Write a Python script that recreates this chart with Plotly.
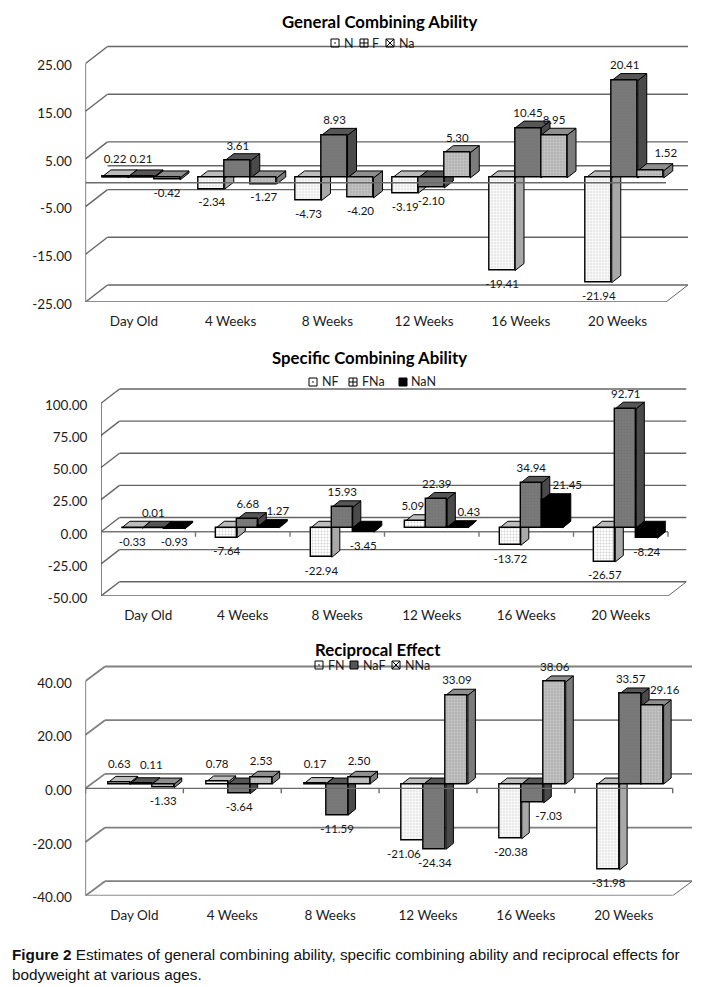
import plotly.graph_objects as go

categories = ["Day Old", "4 Weeks", "8 Weeks", "12 Weeks", "16 Weeks", "20 Weeks"]

# Chart 1
gca_names = ["N", "F", "Na"]
gca_n = [0.22, -2.34, -4.73, -3.19, -19.41, -21.94]
gca_f = [0.21, 3.61, 8.93, -2.10, 10.45, 20.41]
gca_na = [-0.42, -1.27, -4.20, 5.30, 8.95, 1.52]
gca_ticks = [25, 15, 5, -5, -15, -25]
gca_ticktext = ["25.00", "15.00", "5.00", "-5.00", "-15.00", "-25.00"]

# Chart 2
sca_names = ["NF", "FNa", "NaN"]
sca_nf = [-0.33, -7.64, -22.94, 5.09, -13.72, -26.57]
sca_fna = [0.01, 6.68, 15.93, 22.39, 34.94, 92.71]
sca_nan = [-0.93, 1.27, -3.45, 0.43, 21.45, -8.24]
sca_ticks = [100, 75, 50, 25, 0, -25, -50]
sca_ticktext = ["100.00", "75.00", "50.00", "25.00", "0.00", "-25.00", "-50.00"]

# Chart 3
rec_names = ["FN", "NaF", "NNa"]
rec_fn = [0.63, 0.78, 0.17, -21.06, -20.38, -31.98]
rec_naf = [0.11, -3.64, -11.59, -24.34, -7.03, 33.57]
rec_nna = [-1.33, 2.53, 2.50, 33.09, 38.06, 29.16]
rec_ticks = [40, 20, 0, -20, -40]
rec_ticktext = ["40.00", "20.00", "0.00", "-20.00", "-40.00"]

W, H = 710, 987
LW = dict(white=dict(front="#ffffff", fg="#a6a6a6", side="#a8a8a8", top="#bcbcbc"),
          dark=dict(front="#7a7a7a", fg="#696969", side="#4a4a4a", top="#565656"),
          light=dict(front="#c6c6c6", fg="#7c7c7c", side="#7c7c7c", top="#8e8e8e"),
          black=dict(front="#000000", fg="#000000", side="#000000", top="#000000"))

panels = [
    dict(title="General Combining Ability", tx=380, ty=22, names=gca_names,
         series=[gca_n, gca_f, gca_na], styles=["white", "dark", "light"],
         ticks=gca_ticks, ticktext=gca_ticktext, extra_back=[0], x0=85.5, x1=666, vmax=25, vmin=-25,
         ytop=63.5, ybot=302, dx=22, dy=17, bar_lead=16.5, bar_w=26, base_px=4.8, dep=(9, -7),
         axis_top=True, cat_ticks=False, grid=("#666666", 1.4),
         leg_x=[335, 364, 390], leg_tx=[344, 372, 399], leg_y=43,
         leg_sym=["square-open-dot", "square-cross-open", "square-x-open"], leg_col=["#000000"] * 3,
         nudges={(0, 0): (0, -3), (1, 0): (0, -3), (2, 5): (15, -3)}),
    dict(title="Specific Combining Ability", tx=369, ty=358, names=sca_names,
         series=[sca_nf, sca_fna, sca_nan], styles=["white", "dark", "black"],
         ticks=sca_ticks, ticktext=sca_ticktext, extra_back=[], x0=101, x1=668, vmax=100, vmin=-50,
         ytop=403.3, ybot=596, dx=18.5, dy=14.3, bar_lead=20.8, bar_w=21, base_px=4, dep=(8, -6.5),
         axis_top=False, cat_ticks=True, grid=("#666666", 1.4),
         leg_x=[313, 353, 403], leg_tx=[322, 362, 411], leg_y=382,
         leg_sym=["square-open-dot", "square-cross-open", "square"], leg_col=["#000000"] * 3,
         nudges={(0, 3): (-3, 0), (2, 1): (9, 0), (2, 3): (11, 0), (2, 4): (15, 0)}),
    dict(title="Reciprocal Effect", tx=378, ty=649, names=rec_names,
         series=[rec_fn, rec_naf, rec_nna], styles=["white", "dark", "light"],
         ticks=rec_ticks, ticktext=rec_ticktext, extra_back=[], x0=85.5, x1=672.7, vmax=40, vmin=-40,
         ytop=681, ybot=895.7, dx=19.5, dy=14.5, bar_lead=22.8, bar_w=22, base_px=4.3, dep=(7.5, -6),
         axis_top=True, cat_ticks=True, grid=("#808080", 1.8),
         leg_x=[319, 354, 396], leg_tx=[328, 363, 405], leg_y=665,
         leg_sym=["square-open-dot", "square", "square-x-open"], leg_col=["#000000", "#555555", "#000000"],
         nudges={(0, 0): (0, -3), (1, 0): (10, -4), (0, 1): (0, -3), (2, 1): (0, -1),
                 (0, 2): (0, -4), (2, 2): (0, -1), (0, 3): (-9, 0), (1, 4): (16, 0), (2, 5): (12, -1)}),
]

fig = go.Figure()
layout = dict(width=W, height=H, margin=dict(l=0, r=0, t=0, b=0), autosize=False,
              paper_bgcolor="white", plot_bgcolor="rgba(0,0,0,0)", showlegend=False,
              barmode="overlay", bargap=0)
annotations = []
TICKFONT = dict(family="Lato, Carlito, sans-serif", size=13.5, color="#1c1c1c")
TOP_PAD = 30

for k, p in enumerate(panels):
    a = 2 * k + 1
    b = 2 * k + 2
    xa, ya = f"x{a}", f"y{a}"
    xb, yb = f"x{b}", f"y{b}"
    cw = (p["x1"] - p["x0"]) / 6
    sy = (p["ybot"] - p["ytop"]) / (p["vmax"] - p["vmin"])
    ddx, ddy = p["dx"] / cw, p["dy"] / sy
    xr = [0, 6 + ddx]
    yr = [p["vmin"], p["vmax"] + (p["dy"] + TOP_PAD) / sy]
    xdom = [p["x0"] / W, (p["x1"] + p["dx"]) / W]
    ydom = [1 - p["ybot"] / H, 1 - (p["ytop"] - p["dy"] - TOP_PAD) / H]
    axx = dict(range=xr, domain=xdom, showgrid=False, zeroline=False, showline=False,
               fixedrange=True, automargin=False)
    axy = dict(range=yr, domain=ydom, showgrid=False, zeroline=False, showline=False,
               fixedrange=True, automargin=False)
    layout[f"xaxis{a}"] = dict(axx, anchor=ya, tickmode="array",
                               tickvals=[i + 0.5 for i in range(6)], ticktext=categories,
                               ticks="outside", ticklen=7, tickcolor="rgba(0,0,0,0)",
                               tickfont=TICKFONT)
    layout[f"yaxis{a}"] = dict(axy, anchor=xa, tickmode="array", tickvals=p["ticks"],
                               ticktext=p["ticktext"], ticks="outside", ticklen=10,
                               tickcolor="rgba(0,0,0,0)", tickfont=TICKFONT, ticklabelshift=2)
    layout[f"xaxis{b}"] = dict(axx, anchor=yb, overlaying=xa, visible=False)
    layout[f"yaxis{b}"] = dict(axy, anchor=xb, overlaying=ya, visible=False)

    # Walls and grid on the lower layer
    gx, gy = [], []
    for v in list(p["ticks"]) + p["extra_back"]:
        gx += [0 + ddx, 6 + ddx, None]
        gy += [v + ddy, v + ddy, None]
        if v in p["ticks"]:
            gx += [0, ddx, None]
            gy += [v, v + ddy, None]
    fig.add_trace(go.Scatter(x=gx, y=gy, mode="lines", line=dict(color=p["grid"][0], width=p["grid"][1]),
                             xaxis=xa, yaxis=ya, hoverinfo="skip"))
    fig.add_trace(go.Scatter(x=[6, 6 + ddx], y=[p["vmin"], p["vmin"] + ddy], mode="lines",
                             line=dict(color="#666666", width=1), xaxis=xa, yaxis=ya, hoverinfo="skip"))
    fig.add_trace(go.Scatter(x=[0, 6], y=[p["vmin"], p["vmin"]], mode="lines",
                             line=dict(color="#8c8c8c", width=2), xaxis=xa, yaxis=ya, hoverinfo="skip"))
    fig.add_trace(go.Scatter(x=[0, 0], y=[p["vmin"], p["vmax"]], mode="lines",
                             line=dict(color="#333333", width=1.2), xaxis=xa, yaxis=ya, hoverinfo="skip"))

    axis_x, axis_y = [0, 6], [0, 0]
    tick_drop = 5 / sy
    cat_x, cat_y = [], []
    if p["cat_ticks"]:
        for i in range(7):
            cat_x += [i, i, None]
            cat_y += [0, -tick_drop, None]
    if not p["axis_top"]:
        fig.add_trace(go.Scatter(x=axis_x + [None] + cat_x, y=axis_y + [None] + cat_y, mode="lines",
                                 line=dict(color="#777777", width=1.4), xaxis=xa, yaxis=ya, hoverinfo="skip"))

    base = p["base_px"] / sy
    lead = p["bar_lead"] / cw
    bw = p["bar_w"] / cw
    ox, oy = p["dep"][0] / cw, -p["dep"][1] / sy

    # Depth faces of the bars, drawn series by series under the bar fronts
    for s, vals in enumerate(p["series"]):
        st = LW[p["styles"][s]]
        tx, ty, sx, sy_ = [], [], [], []
        for i, v in enumerate(vals):
            xl = i + lead + s * bw
            xr_ = xl + bw
            top = base + max(v, 0)
            bot = base + min(v, 0)
            tx += [xl, xr_, xr_ + ox, xl + ox, xl, None]
            ty += [top, top, top + oy, top + oy, top, None]
            sx += [xr_, xr_ + ox, xr_ + ox, xr_, xr_, None]
            sy_ += [top, top + oy, bot + oy, bot, top, None]
        fig.add_trace(go.Scatter(x=sx, y=sy_, mode="lines", fill="toself", fillcolor=st["side"],
                                 line=dict(color="#000000", width=1), xaxis=xa, yaxis=ya, hoverinfo="skip"))
        fig.add_trace(go.Scatter(x=tx, y=ty, mode="lines", fill="toself", fillcolor=st["top"],
                                 line=dict(color="#000000", width=1), xaxis=xa, yaxis=ya, hoverinfo="skip"))

    # Bar fronts on the upper layer
    for s, vals in enumerate(p["series"]):
        st = LW[p["styles"][s]]
        marker = dict(color=st["front"], line=dict(color="#000000", width=1.4))
        if p["styles"][s] != "black":
            marker["pattern"] = dict(shape=".", size=3, solidity=0.35, fgcolor=st["fg"], bgcolor=st["front"])
        fig.add_trace(go.Bar(x=[i + lead + s * bw + bw / 2 for i in range(6)], y=vals,
                             base=[base] * 6, width=bw, marker=marker, name=p["names"][s],
                             xaxis=xb, yaxis=yb, hoverinfo="skip"))

    if p["axis_top"]:
        fig.add_trace(go.Scatter(x=axis_x + [None] + cat_x, y=axis_y + [None] + cat_y, mode="lines",
                                 line=dict(color="#6a6a6a", width=1.4), xaxis=xb, yaxis=yb, hoverinfo="skip"))

    # Data labels
    lx, ly, lt = [], [], []
    for s, vals in enumerate(p["series"]):
        for i, v in enumerate(vals):
            ndx, ndy = p["nudges"].get((s, i), (0, 0))
            xc = i + lead + s * bw + bw / 2 + ndx / cw
            if v >= 0:
                yc = base + v + (14 - ndy) / sy
            else:
                yc = base + v - (14.5 + ndy) / sy
            lx.append(xc)
            ly.append(yc)
            lt.append(f"{v:.2f}")
    fig.add_trace(go.Scatter(x=lx, y=ly, text=lt, mode="text", textposition="middle center",
                             textfont=dict(family="Lato, Carlito, sans-serif", size=11.5, color="#141414"),
                             cliponaxis=False, xaxis=xb, yaxis=yb, hoverinfo="skip"))

    # Compact legend
    def px2x(px):
        return (px - p["x0"]) / cw

    def px2y(py):
        return p["vmax"] - (py - p["ytop"]) / sy

    for s, name in enumerate(p["names"]):
        sym = p["leg_sym"][s]
        fig.add_trace(go.Scatter(x=[px2x(p["leg_x"][s])], y=[px2y(p["leg_y"])], mode="markers",
                                 marker=dict(symbol=sym, size=8, color=p["leg_col"][s],
                                             line=dict(color="#000000", width=1)),
                                 cliponaxis=False, xaxis=xb, yaxis=yb, hoverinfo="skip"))
        annotations.append(dict(x=p["leg_tx"][s] / W, y=1 - p["leg_y"] / H, xref="paper", yref="paper",
                                text=name, showarrow=False, xanchor="left", yanchor="middle",
                                xshift=-2, font=dict(family="Lato, Carlito, sans-serif", size=12.5, color="#1c1c1c")))

    annotations.append(dict(x=p["tx"] / W, y=1 - p["ty"] / H, xref="paper", yref="paper",
                            text=f"<b>{p['title']}</b>", showarrow=False, xanchor="center", yanchor="middle",
                            font=dict(family="Lato, Carlito, sans-serif", size=16.8, color="#000000")))

annotations.append(dict(x=12 / W, y=1 - 964 / H, xref="paper", yref="paper", align="left",
                        text="<b>Figure 2</b> Estimates of general combining ability, specific combining ability and reciprocal effects for<br>bodyweight at various ages.",
                        showarrow=False, xanchor="left", yanchor="middle", xshift=-2,
                        font=dict(family="Liberation Sans, Arial, sans-serif", size=15.3, color="#111111")))
layout["annotations"] = annotations
fig.update_layout(**layout)
fig.write_html("out.html", post_script="document.body.style.margin='0';", config=dict(displayModeBar=False))
